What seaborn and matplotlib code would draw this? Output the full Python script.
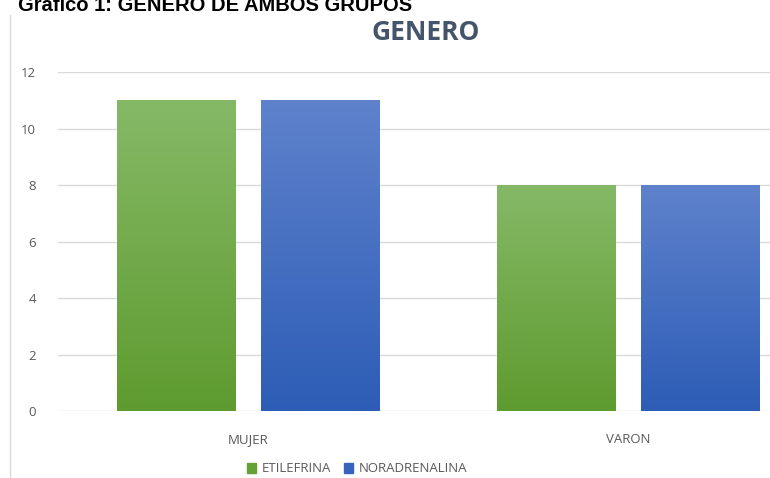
import numpy as np
import pandas as pd
import seaborn as sns
import matplotlib.pyplot as plt
from matplotlib.colors import LinearSegmentedColormap

categories = ["MUJER", "VARON"]
etilefrina = [11, 8]
noradrenalina = [11, 8]
series_names = ["ETILEFRINA", "NORADRENALINA"]
yticks = [0, 2, 4, 6, 8, 10, 12]

df = pd.DataFrame({
    "Genero": categories * 2,
    "Grupo": [series_names[0]] * len(categories) + [series_names[1]] * len(categories),
    "Valor": etilefrina + noradrenalina,
})

sns.set_theme(style="white")
plt.rcParams["font.family"] = ["Open Sans", "DejaVu Sans"]

colors = {"ETILEFRINA": "#64A136", "NORADRENALINA": "#3763BD"}
grads = {
    "ETILEFRINA": ("#5E9B2F", "#86B967"),
    "NORADRENALINA": ("#2D5DB6", "#5F82CC"),
}

fig = plt.figure(figsize=(7.7, 4.78), dpi=100)
ax = fig.add_axes([58 / 770, 1 - 411 / 478, 760 / 770, 339 / 478])

sns.barplot(data=df, x="Genero", y="Valor", hue="Grupo", order=categories,
            hue_order=series_names, palette=colors, width=0.763, gap=0.186,
            ax=ax, legend=False, saturation=1)

# vertical gradient fill like the spreadsheet chart
for i, patch in enumerate(ax.patches):
    name = series_names[i // len(categories)]
    cmap = LinearSegmentedColormap.from_list(name, grads[name])
    x0, y0 = patch.get_x(), patch.get_y()
    w, h = patch.get_width(), patch.get_height()
    grad = np.linspace(0, 1, 256).reshape(-1, 1)
    im = ax.imshow(grad, cmap=cmap, origin="lower", aspect="auto",
                   extent=[x0, x0 + w, y0, y0 + h], zorder=patch.get_zorder() + 0.1)
    im.set_clip_path(patch)

ax.set_xlim(-0.5, 1.5)
ax.set_ylim(0, 12)
ax.set_yticks(yticks)
ax.yaxis.grid(True, color="#D9D9D9", linewidth=1)
ax.set_axisbelow(True)
for s in ax.spines.values():
    s.set_visible(False)
ax.tick_params(axis="both", length=0, labelsize=9.5, labelcolor="#595959")
ax.tick_params(axis="y", pad=16)
ax.tick_params(axis="x", pad=16)
ax.set_xlabel("")
ax.set_ylabel("")

fig.text(426 / 770, 1 - 32 / 478, "GENERO", ha="center", va="center",
         fontsize=19, fontweight="bold", color="#44546A")

fig.text(18 / 770, 1 - 11 / 478, "Gráfico 1: GENERO DE AMBOS GRUPOS", ha="left",
         va="baseline", fontsize=14.5, fontweight="bold", color="#000000",
         family=["Liberation Sans", "DejaVu Sans"])

# chart frame edge on the left
fig.add_artist(plt.Line2D([10 / 770, 10 / 770], [0, 1 - 15 / 478],
                          color="#D9D9D9", linewidth=1))

handles = [plt.Rectangle((0, 0), 1, 1, color=colors[n]) for n in series_names]
fig.legend(handles, series_names, loc="center", bbox_to_anchor=(357 / 770, 1 - 469 / 478),
           ncol=2, frameon=False, fontsize=9.5, labelcolor="#595959",
           handlelength=0.7, handleheight=0.7, handletextpad=0.4, columnspacing=1.0)

fig.savefig("out.png", dpi=100)
